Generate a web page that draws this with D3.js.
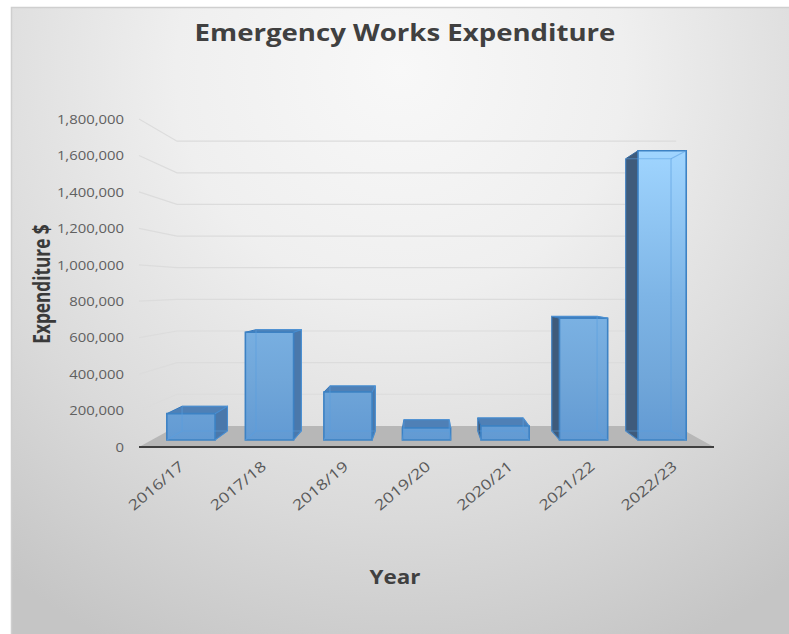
<!DOCTYPE html>
<html>
<head>
<meta charset="utf-8">
<script src="https://cdn.jsdelivr.net/npm/d3@7"></script>
<style>
  html, body { margin: 0; padding: 0; background: #fff; }
  svg { display: block; }
  text { font-family: "Open Sans", sans-serif; }
</style>
</head>
<body>
<svg id="chart" width="789" height="634"></svg>
<script>
// Emergency works spending by financial year
const categories = ["2016/17", "2017/18", "2018/19", "2019/20", "2020/21", "2021/22", "2022/23"];
const expenditure = [151000, 618000, 275000, 69000, 80000, 699000, 1660000];
const tickValues = [0, 200000, 400000, 600000, 800000, 1000000, 1200000, 1400000, 1600000, 1800000];

const svg = d3.select("#chart");
const defs = svg.append("defs");

// Panel background: soft radial falloff from the top centre
const bg = defs.append("radialGradient").attr("id", "panelBg")
  .attr("gradientUnits", "userSpaceOnUse")
  .attr("cx", 400).attr("cy", 70).attr("r", 640);
[[0, "#f8f8f8"], [0.35, "#efefef"], [0.7, "#dadada"], [1, "#c5c5c5"]].forEach(([o, c]) =>
  bg.append("stop").attr("offset", o).attr("stop-color", c));

// Bar fronts lighten with height across the whole plot
const front = defs.append("linearGradient").attr("id", "barFront")
  .attr("gradientUnits", "userSpaceOnUse")
  .attr("x1", 0).attr("x2", 0).attr("y1", 150).attr("y2", 440);
[[0, "#a0d5ff"], [0.5, "#7eb5e6"], [0.8, "#70a6d9"], [1, "#629ad3"]].forEach(([o, c]) =>
  front.append("stop").attr("offset", o).attr("stop-color", c));

svg.append("rect").attr("x", 11.5).attr("y", 7.5).attr("width", 790).attr("height", 640)
  .attr("fill", "url(#panelBg)").attr("stroke", "#cfcfcf").attr("stroke-width", 1.5);

// Front-plane scales and the one-point perspective used for depth
const y = d3.scaleLinear().domain([0, 1800000]).range([447, 119]);
const x = d3.scaleBand().domain(categories).range([139, 714]).paddingInner(0.386).paddingOuter(0.193);
const vanish = { x: 427, y: 287 };
const depth = { wall: 0.868, barFront: 0.956, barBack: 0.9 };
const project = (px, py, s) => [vanish.x + (px - vanish.x) * s, vanish.y + (py - vanish.y) * s];
const poly = pts => pts.map(p => p.join(",")).join(" ");

const [xMin, xMax] = x.range();

// Side wall lines, back wall gridlines
const grid = svg.append("g").attr("stroke", "#dcdcdc").attr("stroke-width", 1.2).attr("fill", "none");
tickValues.slice(1).forEach(v => {
  const a = [xMin, y(v)], b = project(xMin, y(v), depth.wall), c = project(xMax, y(v), depth.wall);
  grid.append("polyline").attr("points", poly([a, b, c]));
});

// Floor
svg.append("polygon").attr("fill", "#b7b7b7").attr("points", poly([
  [xMin, y(0)], [xMax, y(0)], project(xMax, y(0), depth.wall), project(xMin, y(0), depth.wall)
]));
svg.append("line").attr("x1", xMin).attr("x2", xMax).attr("y1", y(0)).attr("y2", y(0))
  .attr("stroke", "#3f3f3f").attr("stroke-width", 2);

// Boxes
const bars = svg.selectAll("g.bar").data(categories.map((c, i) => ({ c, v: expenditure[i] })))
  .join("g").attr("class", "bar");
bars.each(function (d) {
  const g = d3.select(this);
  const l = x(d.c), r = l + x.bandwidth(), t = y(d.v), b = y(0);
  const F = (px, py) => project(px, py, depth.barFront);
  const B = (px, py) => project(px, py, depth.barBack);
  const edge = "#3d82c4";

  if (l > vanish.x) {
    g.append("polygon").attr("points", poly([F(l, t), B(l, t), B(l, b), F(l, b)]))
      .attr("fill", "#3f5b7b").attr("stroke", "#35699f").attr("stroke-width", 1);
  }
  if (r < vanish.x) {
    g.append("polygon").attr("points", poly([F(r, t), B(r, t), B(r, b), F(r, b)]))
      .attr("fill", "#4a78ab").attr("stroke", "#2f77bd").attr("stroke-width", 1);
  }
  if (F(l, t)[1] > vanish.y) {
    g.append("polygon").attr("points", poly([F(l, t), F(r, t), B(r, t), B(l, t)]))
      .attr("fill", "#4f80b6").attr("stroke", "#3478bd").attr("stroke-width", 1);
  }
  g.append("polygon").attr("points", poly([F(l, t), F(r, t), F(r, b), F(l, b)]))
    .attr("fill", "url(#barFront)").attr("stroke", edge).attr("stroke-width", 1.6);

  // Inner edges seen through the translucent front
  const inner = g.append("g").attr("fill", "none").attr("stroke", "#5a9ee0").attr("stroke-opacity", 0.55).attr("stroke-width", 1.2);
  inner.append("polygon").attr("points", poly([B(l, t), B(r, t), B(r, b), B(l, b)]));
  inner.append("line").attr("x1", F(l, b)[0]).attr("y1", F(l, b)[1]).attr("x2", B(l, b)[0]).attr("y2", B(l, b)[1]);
  inner.append("line").attr("x1", F(r, b)[0]).attr("y1", F(r, b)[1]).attr("x2", B(r, b)[0]).attr("y2", B(r, b)[1]);
  inner.append("line").attr("x1", F(r, t)[0]).attr("y1", F(r, t)[1]).attr("x2", B(r, t)[0]).attr("y2", B(r, t)[1]);
});

// Value axis labels
const yAxis = d3.axisLeft(y).tickValues(tickValues).tickFormat(d3.format(",")).tickSize(0).tickPadding(0);
svg.append("g").attr("transform", "translate(124,0)").call(yAxis)
  .call(g => g.select(".domain").remove())
  .selectAll("text").attr("fill", "#606060").attr("font-size", 13.5).attr("transform", "scale(1.1,1)")
  .style("font-family", '"Open Sans", sans-serif');

// Category labels, tilted and anchored at their end
const xAxis = d3.axisBottom(x).tickSize(0).tickPadding(0);
svg.append("g").call(xAxis)
  .call(g => g.select(".domain").remove())
  .selectAll(".tick").attr("transform", d => `translate(${x(d) + x.bandwidth() / 2 + 5},468)`)
  .select("text").attr("y", 0).attr("dy", 0).attr("text-anchor", "end")
  .attr("transform", "rotate(-40) scale(1.22,1)").attr("fill", "#595959").attr("font-size", 14.5)
  .style("font-family", '"Open Sans", sans-serif');

// Titles
svg.append("text").attr("transform", "translate(405,41) scale(1.2,1)").attr("text-anchor", "middle")
  .attr("font-size", 23).attr("font-weight", 700).attr("fill", "#404040")
  .text("Emergency Works Expenditure");
svg.append("text").attr("transform", "translate(50,284) rotate(-90) scale(0.75,1)")
  .attr("text-anchor", "middle").attr("font-size", 23).attr("font-weight", 700).attr("fill", "#3a3a3a")
  .text("Expenditure $");
svg.append("text").attr("transform", "translate(395,584) scale(1.18,1)").attr("text-anchor", "middle")
  .attr("font-size", 19).attr("font-weight", 700).attr("fill", "#404040")
  .text("Year");
</script>
</body>
</html>
